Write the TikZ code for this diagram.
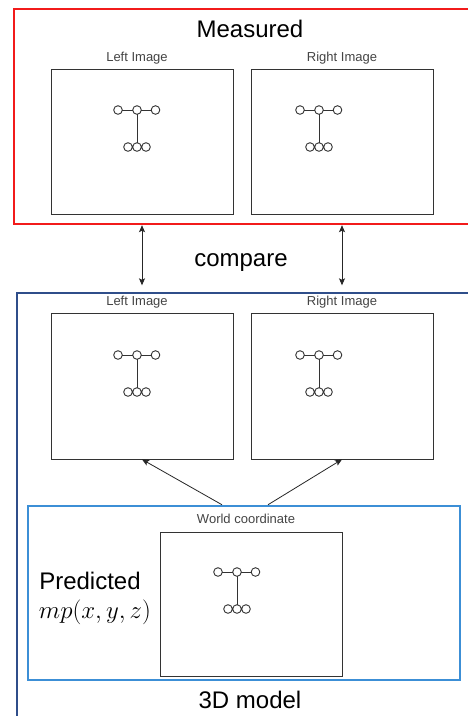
\documentclass[tikz,border=0pt]{standalone}
\usepackage{fontspec}
\setmainfont{Liberation Sans}
\usetikzlibrary{arrows.meta}
\definecolor{mred}{HTML}{F21B1B}
\definecolor{mblue}{HTML}{2F4E8A}
\definecolor{lblue}{HTML}{3C8FD6}
\definecolor{dk}{HTML}{333333}
\definecolor{lbl}{HTML}{444444}
\begin{document}
\begin{tikzpicture}[x=1pt,y=-1pt,
  imgbox/.style={draw=dk,line width=0.8pt,minimum width=182pt,minimum height=145pt,inner sep=0pt},
  grpbox/.style={inner sep=0pt},
  small/.style={text=lbl,font=\fontsize{13}{15}\selectfont,anchor=base,inner sep=0pt},
  big/.style={font=\fontsize{24}{28}\selectfont,anchor=base,inner sep=0pt},
  tip/.tip={Stealth[length=7pt,width=6pt,inset=1.5pt]},
  link/.style={line width=0.8pt,draw=black!85,-tip},
  dlink/.style={line width=0.8pt,draw=black!85,tip-tip},
  glyph/.pic={
    \begin{scope}[draw=dk,line width=0.9pt]
      \draw (-19,0) circle (4.3) (0,0) circle (4.3) (18.5,0) circle (4.3);
      \draw (-14.7,0) -- (-4.3,0) (4.3,0) -- (14.2,0) (0,4.3) -- (0,32.7);
      \draw (-9,37) circle (4.3) (0,37) circle (4.3) (9,37) circle (4.3);
    \end{scope}
  }]
\clip (0,0) rectangle (468,716);
\fill[white] (0,0) rectangle (468,716);

% group boxes
\node[grpbox,draw=mred,line width=1.2pt,minimum width=480pt,minimum height=215pt] (meas) at (254,116.5) {};
\node[grpbox,draw=mblue,line width=1.4pt,minimum width=480pt,minimum height=440pt] (model) at (257,513) {};
\node[grpbox,draw=lblue,line width=1.3pt,minimum width=432pt,minimum height=174pt] (pred) at (244,593) {};

% image boxes
\node[imgbox] (ml) at (142,141.5) {};
\node[imgbox] (mr) at (342,141.5) {};
\node[imgbox,minimum height=146pt] (pl) at (142,386) {};
\node[imgbox,minimum height=146pt] (pr) at (342,386) {};
\node[imgbox,minimum height=144pt] (wc) at (251,604) {};

% glyphs
\pic at (137,110) {glyph};
\pic at (319,110) {glyph};
\pic at (137,355) {glyph};
\pic at (319,355) {glyph};
\pic at (237,572) {glyph};

% labels
\node[big] (tmeas) at (250,37.5) {Measured};
\node[small] (tml) at (137,61) {Left Image};
\node[small] (tmr) at (342,61) {Right Image};
\node[small] (tpl) at (137,305.5) {Left Image};
\node[small] (tpr) at (342,305.5) {Right Image};
\node[small] (twc) at (246,523) {World coordinate};
\node[big] (tcmp) at (241,266.5) {compare};
\node[big] (tpred) at (90,589) {Predicted};
\node[big] (tmp) at (95,618) {$mp(x,y,z)$};
\node[big] (t3d) at (250,708) {3D model};

% compare arrows
\coordinate (a1) at (ml.south |- meas.south);
\coordinate (a2) at (ml.south |- model.north);
\coordinate (b1) at (mr.south |- meas.south);
\coordinate (b2) at (mr.south |- model.north);
\draw[dlink] ([yshift=-0.6pt]a1) -- ([yshift=7pt]a2);
\draw[dlink] ([yshift=-0.6pt]b1) -- ([yshift=7pt]b2);

% projection arrows
\draw[link] ([xshift=-22pt,yshift=0.6pt]pred.north) -- (pl.south);
\draw[link] ([xshift=24pt,yshift=0.6pt]pred.north) -- (pr.south);
\end{tikzpicture}
\end{document}
